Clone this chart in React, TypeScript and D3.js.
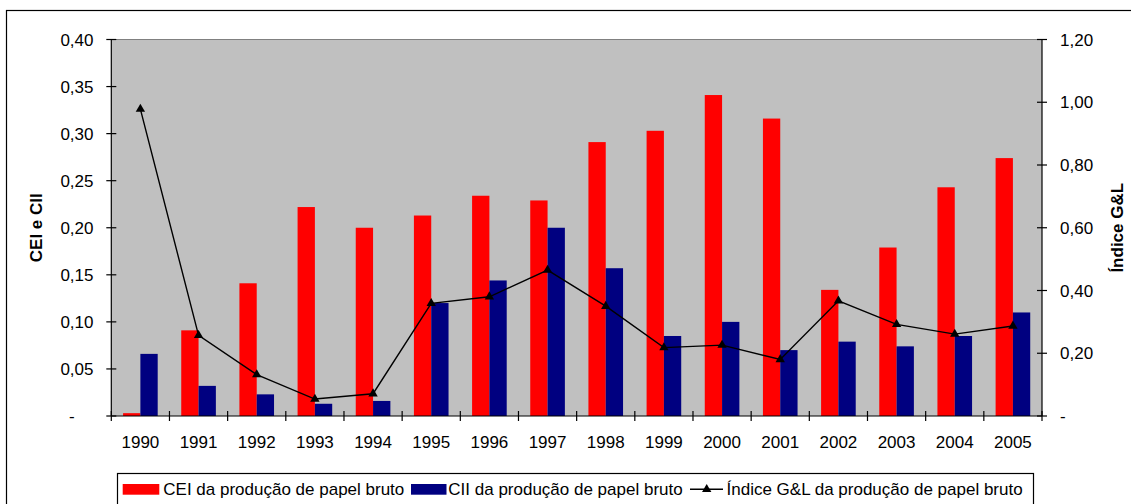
import React from "react";
import * as d3 from "d3";

const years = ["1990","1991","1992","1993","1994","1995","1996","1997","1998","1999","2000","2001","2002","2003","2004","2005"];
const cei = [0.003,0.091,0.141,0.222,0.200,0.213,0.234,0.229,0.291,0.303,0.341,0.316,0.134,0.179,0.243,0.274];
const cii = [0.066,0.032,0.023,0.013,0.016,0.120,0.144,0.200,0.157,0.085,0.100,0.070,0.079,0.074,0.085,0.110];
const gl = [0.978,0.257,0.132,0.054,0.071,0.359,0.380,0.465,0.350,0.218,0.226,0.180,0.367,0.292,0.261,0.287];
const leftTicks = [0,0.05,0.1,0.15,0.2,0.25,0.3,0.35,0.4];
const rightTicks = [0,0.2,0.4,0.6,0.8,1.0,1.2];
const seriesKeys = ["CEI","CII"];
const legendLabels = [
  "CEI da produção de papel bruto",
  "CII da produção de papel bruto",
  "Índice G&L da produção de papel bruto",
];

const FONT = "'Liberation Sans', Arial, sans-serif";

export default function App() {
  const W = 1131, H = 504;
  const left = 111.3, right = 1042, top = 39.5, bottom = 416;
  const x = d3.scaleBand<string>().domain(years).range([left, right]).padding(0);
  const xs = d3.scaleBand<string>().domain(seriesKeys).range([0, x.bandwidth()]).paddingInner(0).paddingOuter(0.68);
  const yL = d3.scaleLinear().domain([0, 0.4]).range([bottom, top]);
  const yR = d3.scaleLinear().domain([0, 1.2]).range([bottom, top]);
  const fmt = (v: number) => (v === 0 ? "-" : d3.format(".2f")(v).replace(".", ","));
  const line = d3.line<number>().x((_, i) => (x(years[i]) as number) + x.bandwidth() / 2).y((d) => yR(d));
  const tri = d3.symbol().type(d3.symbolTriangle).size(38)() as string;
  const boundaries = years.map((y) => x(y) as number).concat([right]);
  const fs = 17;
  const dashPad = 2 * 0.556 * fs;

  return (
    <div style={{ position: "absolute", left: 0, top: 0 }}>
      <svg width={W} height={H} style={{ display: "block" }} fontFamily={FONT}>
        <rect x={0} y={0} width={W} height={H} fill="#fff" />
        <rect x={6.5} y={10.5} width={1300} height={700} fill="none" stroke="#000" strokeWidth={1.2} />
        {/* plot area */}
        <rect x={left} y={top} width={right - left} height={bottom - top} fill="#C0C0C0" />
        <line x1={left} x2={right} y1={top} y2={top} stroke="#808080" strokeWidth={1.2} />
        {/* bars */}
        {years.map((yr, i) => (
          <g key={yr}>
            <rect x={(x(yr) as number) + (xs("CEI") as number)} y={yL(cei[i])} width={xs.bandwidth()} height={bottom - yL(cei[i])} fill="#FF0000" />
            <rect x={(x(yr) as number) + (xs("CII") as number)} y={yL(cii[i])} width={xs.bandwidth()} height={bottom - yL(cii[i])} fill="#000080" />
          </g>
        ))}
        {/* line */}
        <path d={line(gl) as string} fill="none" stroke="#000" strokeWidth={1.4} />
        {gl.map((v, i) => (
          <path key={i} d={tri} transform={`translate(${(x(years[i]) as number) + x.bandwidth() / 2},${yR(v)})`} fill="#000" />
        ))}
        {/* left axis */}
        <line x1={left} x2={left} y1={top} y2={bottom} stroke="#000" strokeWidth={1.2} />
        {leftTicks.map((t) => (
          <g key={t}>
            <line x1={left - 5} x2={left + 5} y1={yL(t)} y2={yL(t)} stroke="#000" strokeWidth={1.2} />
            <text x={93.5 - (t === 0 ? dashPad : 0)} y={yL(t)} dy="0.36em" textAnchor="end" fontSize={fs} fill="#000">{fmt(t)}</text>
          </g>
        ))}
        {/* right axis */}
        <line x1={right} x2={right} y1={top} y2={bottom} stroke="#000" strokeWidth={1.2} />
        {rightTicks.map((t) => (
          <g key={t}>
            <line x1={right - 5} x2={right + 5} y1={yR(t)} y2={yR(t)} stroke="#000" strokeWidth={1.2} />
            <text x={1060} y={yR(t)} dy="0.36em" textAnchor="start" fontSize={fs} fill="#000">{fmt(t)}</text>
          </g>
        ))}
        {/* x axis */}
        <line x1={left} x2={right} y1={bottom} y2={bottom} stroke="#000" strokeWidth={1.2} />
        {boundaries.map((b, i) => (
          <line key={i} x1={b} x2={b} y1={bottom - 5} y2={bottom + 5} stroke="#000" strokeWidth={1.2} />
        ))}
        {years.map((yr) => (
          <text key={yr} x={(x(yr) as number) + x.bandwidth() / 2} y={447.5} textAnchor="middle" fontSize={fs} fill="#000">{yr}</text>
        ))}
        {/* axis titles */}
        <text transform={`translate(42,${(top + bottom) / 2}) rotate(-90)`} textAnchor="middle" fontSize={fs} fontWeight="bold" fill="#000">CEI e CII</text>
        <text transform={`translate(1123,${(top + bottom) / 2}) rotate(-90)`} textAnchor="middle" fontSize={fs} fontWeight="bold" fill="#000">Índice G&amp;L</text>
        {/* legend */}
        <rect x={117.5} y={473.5} width={916} height={60} fill="#fff" stroke="#000" strokeWidth={1.2} />
        <rect x={122.7} y={484} width={36.6} height={10.7} fill="#FF0000" />
        <text x={163.3} y={495} fontSize={fs} fill="#000">{legendLabels[0]}</text>
        <rect x={411} y={484} width={35.5} height={10.7} fill="#000080" />
        <text x={448.3} y={495} fontSize={fs} fill="#000">{legendLabels[1]}</text>
        <line x1={690} x2={723} y1={489.3} y2={489.3} stroke="#000" strokeWidth={1.4} />
        <path d={tri} transform="translate(706.7,489.3)" fill="#000" />
        <text x={726.5} y={495} fontSize={fs} fill="#000">{legendLabels[2]}</text>
      </svg>
    </div>
  );
}
